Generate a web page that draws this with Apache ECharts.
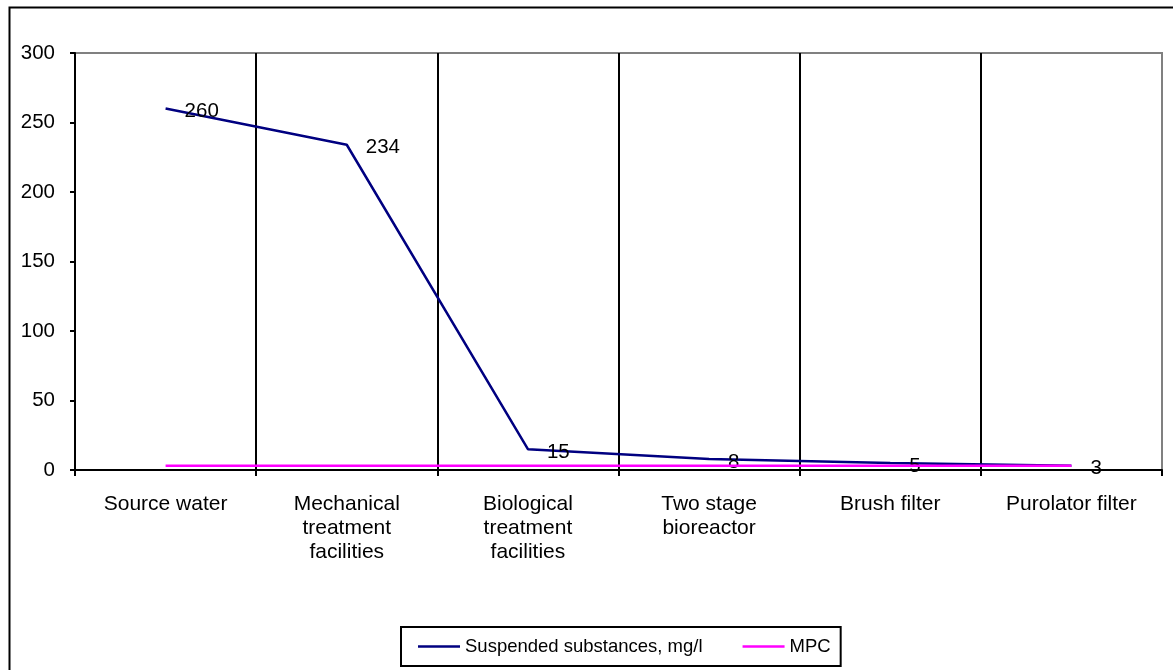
<!DOCTYPE html>
<html>
<head>
<meta charset="utf-8">
<title>Suspended substances</title>
<script src="https://cdn.jsdelivr.net/npm/echarts@6/dist/echarts.min.js"></script>
<style>
  html, body { margin: 0; padding: 0; background: #fff; }
  #chart { width: 1173px; height: 670px; }
</style>
</head>
<body>
<div id="chart"></div>
<script>
// Treatment stages along the x axis
const categories = [
  'Source water',
  'Mechanical\ntreatment\nfacilities',
  'Biological\ntreatment\nfacilities',
  'Two stage\nbioreactor',
  'Brush filter',
  'Purolator filter'
];
// Suspended substances concentration after each stage, mg/l
const suspended = [260, 234, 15, 8, 5, 3];
// Maximum permissible concentration
const mpc = [3, 3, 3, 3, 3, 3];
// Y axis ticks
const yTicks = [0, 50, 100, 150, 200, 250, 300];

const FONT = 'Arial, "Liberation Sans", sans-serif';

const chart = echarts.init(document.getElementById('chart'), null, { renderer: 'canvas' });

chart.setOption({
  animation: false,
  backgroundColor: '#fff',
  textStyle: { fontFamily: FONT, color: '#000' },
  graphic: [{
    type: 'rect',
    left: 7, top: 5,
    shape: { width: 1200, height: 700 },
    style: { fill: 'none', stroke: '#000', lineWidth: 2 },
    silent: true
  }],
  grid: {
    left: 75, right: 11, top: 53, bottom: 200,
    show: true,
    borderColor: '#808080',
    borderWidth: 2,
    backgroundColor: 'transparent'
  },
  legend: {
    left: 401, top: 627,
    padding: [10, 10, 10, 17],
    borderColor: '#000',
    borderWidth: 2,
    itemWidth: 42,
    itemHeight: 2.5,
    itemGap: 40,
    icon: 'rect',
    textStyle: { fontFamily: FONT, fontSize: 18.5, color: '#000' },
    data: ['Suspended substances, mg/l', 'MPC']
  },
  xAxis: {
    type: 'category',
    data: categories,
    boundaryGap: true,
    axisLine: { show: true, lineStyle: { color: '#000', width: 2 } },
    axisTick: { show: true, length: 6, inside: false, lineStyle: { color: '#000', width: 2 } },
    axisLabel: {
      interval: 0, margin: 22, fontSize: 21, lineHeight: 24,
      color: '#000', fontFamily: FONT, align: 'center'
    },
    splitLine: {
      show: true, interval: 0,
      lineStyle: { color: ['#000', '#000', '#000', '#000', '#000', '#000', '#808080'], width: 2 }
    }
  },
  yAxis: {
    type: 'value',
    min: yTicks[0], max: yTicks[yTicks.length - 1], interval: 50,
    axisLine: { show: true, lineStyle: { color: '#000', width: 2 } },
    axisTick: { show: true, length: 5, lineStyle: { color: '#000', width: 2 } },
    axisLabel: { margin: 20, fontSize: 20.5, color: '#000', fontFamily: FONT },
    splitLine: { show: false }
  },
  series: [
    {
      name: 'Suspended substances, mg/l',
      type: 'line',
      data: suspended,
      symbol: 'circle',
      symbolSize: 0.01,
      showSymbol: true,
      lineStyle: { color: '#000080', width: 2.5 },
      itemStyle: { color: '#000080' },
      label: {
        show: true, position: 'right', distance: 19, offset: [0, 3],
        fontSize: 20.5, color: '#000', fontFamily: FONT
      },
      z: 3
    },
    {
      name: 'MPC',
      type: 'line',
      data: mpc,
      symbol: 'none',
      lineStyle: { color: '#FF00FF', width: 2.5 },
      itemStyle: { color: '#FF00FF' },
      z: 4
    }
  ]
});
</script>
</body>
</html>
